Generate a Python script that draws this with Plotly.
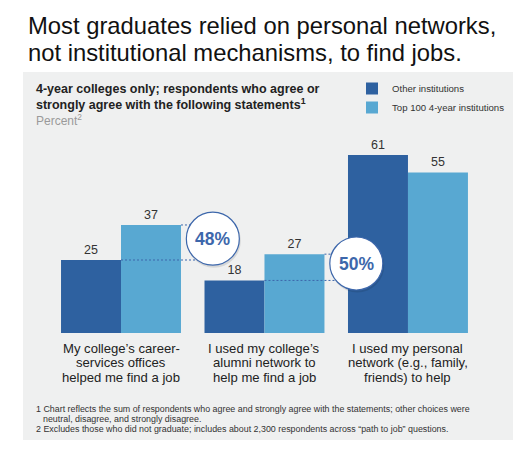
import plotly.graph_objects as go

# the page body has an 8px margin, so draw into a slightly smaller canvas
OFF = 8
W, H = 525 - 2 * OFF, 452 - 2 * OFF

# data
categories = [0, 1, 2]
category_lines = [
    ["My college’s career-", "services offices", "helped me find a job"],
    ["I used my college’s", "alumni network to", "help me find a job"],
    ["I used my personal", "network (e.g., family,", "friends) to help"],
]
other_institutions = [25, 18, 61]
top_100_institutions = [37, 27, 55]
uplift_pct = [48, 50]  # top-100 vs other, first two statements

series_names = ["Other institutions", "Top 100 4-year institutions"]
DARK = "#2e61a0"
LIGHT = "#58a8d2"
ACCENT = "#3d67ab"
PANEL = "#eff0f0"
FONT = "Liberation Sans, Arial, sans-serif"


def px(x):
    return (x - OFF) / W


def py(y):
    return 1 - (y - OFF) / H


BAR_W = 0.418
X_RANGE = [-0.683, 2.732]
Y_RANGE = [0, 89.4]

fig = go.Figure()
for name, vals, color in [
    (series_names[0], other_institutions, DARK),
    (series_names[1], top_100_institutions, LIGHT),
]:
    fig.add_trace(
        go.Bar(
            x=categories,
            y=vals,
            name=name,
            marker={"color": color, "line": {"width": 0}},
            texttemplate="%{y}",
            textposition="outside",
            textfont={"size": 12.5, "color": "#333333", "family": FONT},
            cliponaxis=False,
            hoverinfo="skip",
        )
    )

shapes = [
    # grey panel
    dict(
        type="rect", xref="paper", yref="paper",
        x0=px(23), x1=px(513), y0=py(440), y1=py(72),
        fillcolor=PANEL, line={"width": 0}, layer="below",
    )
]
annotations = []

# title
for y, line in [(25, "Most graduates relied on personal networks,"),
                (52, "not institutional mechanisms, to find jobs.")]:
    annotations.append(
        dict(
            x=px(26), y=py(y), xref="paper", yref="paper", xanchor="left", yanchor="middle",
            text=line, showarrow=False,
            font={"size": 23.8, "color": "#111111", "family": FONT},
        )
    )

# uplift callouts
for i, pct in enumerate(uplift_pct):
    lo, hi = other_institutions[i], top_100_institutions[i]
    cx = categories[i] + 0.64
    cy = (lo + hi) / 2 + 1.3
    for yv, x_start in [(hi, categories[i] + BAR_W), (lo, categories[i])]:
        shapes.append(
            dict(
                type="line", xref="x", yref="y",
                x0=x_start, x1=cx, y0=yv, y1=yv,
                line={"color": ACCENT, "width": 1, "dash": "2px,2px"},
                layer="above",
            )
        )
    # soft shadow
    shapes.append(
        dict(
            type="circle", xref="x", yref="y",
            xsizemode="pixel", ysizemode="pixel",
            xanchor=cx, yanchor=cy,
            x0=-26, x1=28, y0=-29, y1=25,
            fillcolor="rgba(0,0,0,0.10)", line={"width": 0}, layer="above",
        )
    )
    shapes.append(
        dict(
            type="circle", xref="x", yref="y",
            xsizemode="pixel", ysizemode="pixel",
            xanchor=cx, yanchor=cy,
            x0=-26.5, x1=26.5, y0=-26.5, y1=26.5,
            fillcolor="white", line={"color": ACCENT, "width": 1.2}, layer="above",
        )
    )
    annotations.append(
        dict(
            x=cx, y=cy, xref="x", yref="y", text=f"<b>{pct}%</b>",
            showarrow=False, font={"size": 17.5, "color": ACCENT, "family": FONT},
        )
    )

# category labels, tight line spacing
for i, lines in enumerate(category_lines):
    for j, line in enumerate(lines):
        annotations.append(
            dict(
                x=categories[i], y=py(348 + j * 14.5), xref="x", yref="paper",
                text=line, showarrow=False, xanchor="center", yanchor="middle",
                font={"size": 13.1, "color": "#222222", "family": FONT},
            )
        )

# subtitle
annotations += [
    dict(
        x=px(34), y=py(89), xref="paper", yref="paper", xanchor="left", yanchor="middle",
        text="<b>4-year colleges only; respondents who agree or</b>", showarrow=False,
        font={"size": 12.5, "color": "#222222", "family": FONT},
    ),
    dict(
        x=px(34), y=py(104), xref="paper", yref="paper", xanchor="left", yanchor="middle",
        text="<b>strongly agree with the following statements<sup>1</sup></b>", showarrow=False,
        font={"size": 12.5, "color": "#222222", "family": FONT},
    ),
    dict(
        x=px(34), y=py(120), xref="paper", yref="paper", xanchor="left", yanchor="middle",
        text="Percent<sup>2</sup>", showarrow=False,
        font={"size": 12, "color": "#9a9a9a", "family": FONT},
    ),
]

# footnotes
footnotes = [
    (34, 409, "1 Chart reflects the sum of respondents who agree and strongly agree with the statements; other choices were"),
    (41, 419, "neutral, disagree, and strongly disagree."),
    (34, 429, "2 Excludes those who did not graduate; includes about 2,300 respondents across “path to job” questions."),
]
for x, y, txt in footnotes:
    annotations.append(
        dict(
            x=px(x), y=py(y), xref="paper", yref="paper", xanchor="left", yanchor="middle",
            text=txt, showarrow=False,
            font={"size": 8.9, "color": "#333333", "family": FONT},
        )
    )

fig.update_layout(
    width=W,
    height=H,
    margin={"l": 0, "r": 0, "t": 0, "b": 0},
    paper_bgcolor="white",
    plot_bgcolor="rgba(0,0,0,0)",
    barmode="group",
    bargap=0.164,
    bargroupgap=0,
    xaxis={
        "domain": [px(23), px(513)], "range": X_RANGE,
        "visible": False, "fixedrange": True,
    },
    yaxis={
        "domain": [py(333), py(72)], "range": Y_RANGE,
        "visible": False, "fixedrange": True,
    },
    legend={
        "x": px(352), "y": py(74), "xanchor": "left", "yanchor": "top",
        "bgcolor": "rgba(0,0,0,0)",
        "font": {"size": 9.6, "color": "#333333", "family": FONT},
    },
    shapes=shapes,
    annotations=annotations,
)

fig.write_html("out.html")
